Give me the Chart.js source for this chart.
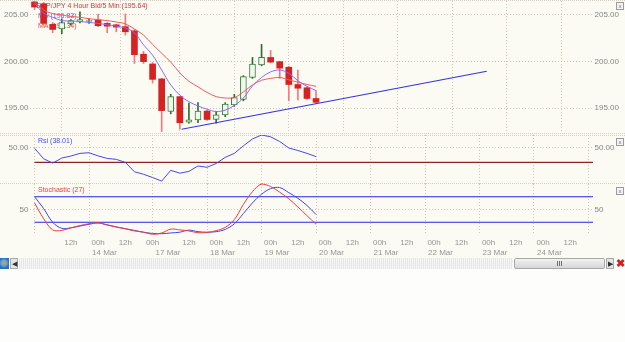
<!DOCTYPE html>
<html>
<head>
<meta charset="utf-8">
<script src="https://cdn.jsdelivr.net/npm/chart.js@4.4.0/dist/chart.umd.min.js"></script>
<style>
  body { margin: 0; background: #fdfdfb; }
  #wrap { position: relative; width: 625px; height: 342px; overflow: hidden; background: #fdfdfb;
          font-family: "Liberation Sans", Arial, sans-serif; }
  #bg { position: absolute; left: 0; top: 0; width: 625px; height: 258px; background: #fbfbf4; }
  canvas { position: absolute; left: 0; }
  .hline { position: absolute; left: 0; width: 625px; height: 0; border-top: 1px dotted #d8cfc2; }
  .xbox { position: absolute; left: 616px; width: 6px; height: 6px; border: 1px solid #9a9a9a;
          font-size: 6px; line-height: 6px; text-align: center; color: #777; background: #f4f4f0; }
  #scroll { position: absolute; left: 0; top: 258px; width: 625px; height: 11px; }
  #scroll div { position: absolute; top: 0; height: 11px; }
</style>
</head>
<body>
<div id="wrap">
  <div id="bg"></div>
  <div class="hline" style="top:0px"></div>
  <div class="hline" style="top:133px"></div>
  <div class="hline" style="top:135px"></div>
  <div class="hline" style="top:183px"></div>
  <canvas id="price" width="625" height="134" style="top:0px"></canvas>
  <canvas id="rsi" width="625" height="50" style="top:134px"></canvas>
  <canvas id="stoch" width="625" height="77" style="top:182px"></canvas>
  <div class="xbox" style="top:2px">x</div>
  <div class="xbox" style="top:138px">x</div>
  <div class="xbox" style="top:187px">x</div>
  <div id="scroll">
    <div style="left:0;width:9px;background:radial-gradient(circle at 4px 5px,#f0a030 0,#5aa0e0 3px,#2a70c0 5px);"></div>
    <div style="left:10px;width:8px;background:#e4e4e0;border:1px solid #aaa;box-sizing:border-box;font-size:7px;line-height:9px;text-align:center;color:#333">&#9664;</div>
    <div style="left:19px;width:494px;background:repeating-linear-gradient(90deg,#e6e6e6 0 1px,#f6f6f6 1px 2px);"></div>
    <div style="left:514px;width:91px;background:linear-gradient(#f2f2f2,#d6d6d6);border:1px solid #a8a8a8;border-radius:2px;box-sizing:border-box;text-align:center;font-size:7px;line-height:9px;color:#333">III</div>
    <div style="left:606px;width:8px;background:#e4e4e0;border:1px solid #aaa;box-sizing:border-box;font-size:7px;line-height:9px;text-align:center;color:#333">&#9654;</div>
    <div style="left:615px;width:10px;color:#d02020;font-size:11px;font-weight:bold;line-height:11px;text-align:center">&#10006;</div>
  </div>
</div>
<script>
// 4 hour candles, GBP/JPY
const openP  = [206.4, 206.2, 204.0, 203.5, 204.1, 204.25, 204.3, 204.45, 204.1, 203.95, 203.75, 203.3, 200.8, 199.75, 198.15, 194.65,
                196.25, 193.5, 193.75, 194.7, 193.8, 194.3, 195.35, 195.95, 198.3, 199.65, 200.45, 200.0, 199.4, 197.55, 197.2, 196.05];
const highP  = [206.5, 206.35, 204.2, 204.6, 204.5, 205.35, 204.6, 205.1, 204.2, 204.0, 205.1, 203.45, 201.1, 199.9, 198.2, 196.5,
                196.3, 195.55, 195.6, 194.8, 194.65, 195.6, 196.5, 198.5, 200.45, 201.85, 201.2, 200.05, 199.5, 199.1, 197.3, 196.9];
const lowP   = [205.6, 203.9, 203.1, 203.0, 203.9, 204.15, 204.1, 203.75, 203.1, 203.2, 202.85, 199.8, 199.8, 197.7, 192.5, 194.4,
                192.75, 193.4, 193.45, 193.7, 193.4, 194.1, 195.2, 195.8, 198.2, 199.55, 199.9, 198.2, 195.8, 195.9, 195.95, 195.5];
const closeP = [205.85, 204.1, 203.45, 204.2, 204.4, 204.5, 204.4, 203.85, 203.8, 203.7, 203.2, 200.75, 200.0, 198.1, 194.75, 196.25,
                193.45, 193.75, 194.7, 193.8, 194.3, 195.45, 196.15, 198.4, 199.75, 200.45, 199.95, 199.3, 197.55, 197.15, 196.05, 195.64];
const maFast = [206.25, 205.2, 204.75, 204.4, 204.35, 204.3, 204.2, 204.1, 203.95, 203.8, 203.6, 203.1, 201.8, 200.7, 199.1, 197.5,
                196.4, 195.7, 195.25, 194.9, 194.65, 194.8, 195.3, 196.1, 197.4, 198.3, 198.9, 199.1, 198.75, 197.95, 197.35, 196.9];
const maSlow = [206.4, 205.55, 205.15, 205.0, 204.85, 204.75, 204.6, 204.5, 204.4, 204.25, 204.05, 203.5, 202.85, 201.85, 200.9, 199.95,
                198.8, 197.9, 197.3, 196.7, 196.25, 196.1, 196.15, 196.75, 197.5, 198.0, 198.2, 198.3, 198.05, 197.8, 197.55, 197.35];
const rsiVals = [49.6, 35, 29, 36, 38.8, 42.5, 43.4, 39, 35.5, 34.2, 30, 17, 13.5, 9, 4, 19,
                 15, 17.5, 25, 23.2, 28.5, 37, 42.5, 53, 62.5, 68, 65.5, 59, 50, 46.5, 42.5, 38.01];
const stochK = [63, 32, 10, 9, 14, 18.5, 22, 24, 19.5, 15.5, 12, 8, 5.5, 1.5, 4, 11.5,
                10, 8, 4.5, 5, 8.5, 15, 30, 60, 85, 100, 95, 84, 71, 55, 38, 21];
const stochD = [75, 52, 25, 13, 14, 17.5, 21, 23.5, 20, 16, 12.5, 9, 5.5, 3, 2.5, 4,
                5.5, 9.5, 6.5, 5.5, 6.5, 11, 22, 42, 63, 80, 91, 93, 83, 72, 58, 40];
const trendX = [16.2, 49.8];
const trendY = [192.75, 198.97];
const rsiLevel = 30;
const stochLevels = [75, 25];

// time axis: 4 hour slots incl. empty future
const slotCount = 62;
const hourTickIdx  = [4, 7, 10, 13, 17, 20, 23, 26, 29, 32, 35, 38, 41, 44, 47, 50, 53, 56, 59];
const hourTickText = ['12h', '00h', '12h', '00h', '12h', '00h', '12h', '00h', '12h', '00h', '12h', '00h', '12h', '00h', '12h', '00h', '12h', '00h', '12h'];
const dayLineIdx = [0, 6, 13, 19, 25, 31, 37, 43, 49, 55, 61];
const dayText    = ['', '14 Mar', '17 Mar', '18 Mar', '19 Mar', '20 Mar', '21 Mar', '22 Mar', '23 Mar', '24 Mar', ''];

const priceTicks = [195, 200, 205];

const FONT = '"Liberation Sans", Arial, sans-serif';
const GRID = '#d2c4b2';
const xMin = -0.5, xMax = slotCount - 0.5;

const upCol = closeP.map((c, i) => c >= openP[i]);

function fixW(w) { return s => { s.width = w; s.paddingTop = 0; s.paddingBottom = 0; }; }
function fixH(h) { return s => { s.height = h; s.paddingLeft = 0; s.paddingRight = 0; }; }

const panelLabels = {
  id: 'panelLabels',
  beforeDatasetsDraw(chart, args, opts) {
    const ctx = chart.ctx;
    ctx.save();
    ctx.font = '7px ' + FONT;
    ctx.textBaseline = 'middle';
    (opts.items || []).forEach(it => {
      ctx.fillStyle = it.color;
      ctx.fillText(it.text, it.x, it.y);
    });
    ctx.restore();
  }
};

function dayGridAxis(height) {
  return {
    type: 'linear', min: xMin, max: xMax, offset: false,
    afterBuildTicks: s => { s.ticks = dayLineIdx.map(v => ({ value: v })); },
    ticks: { display: false },
    grid: { color: GRID, drawTicks: false },
    border: { display: false, dash: [1, 2] },
    afterFit: fixH(height)
  };
}

function yAxes(min, max, ticks, fmt, gridOn) {
  const base = {
    type: 'linear', min: min, max: max,
    afterBuildTicks: s => { s.ticks = ticks.map(v => ({ value: v })); },
    ticks: { font: { size: 8, family: FONT }, color: '#858585', padding: 1.5, callback: v => fmt(v) },
    border: { display: false, dash: [1, 2] }
  };
  return {
    y: Object.assign({}, base, {
      position: 'left', afterFit: fixW(30),
      grid: { display: gridOn, color: GRID, drawTicks: false }
    }),
    y2: Object.assign({}, base, {
      position: 'right', afterFit: fixW(32),
      grid: { display: false, drawTicks: false }
    })
  };
}

const common = {
  responsive: false, maintainAspectRatio: false, animation: false, devicePixelRatio: 1,
  plugins: { legend: { display: false }, tooltip: { enabled: false } }
};

// ---- price panel
new Chart(document.getElementById('price'), {
  type: 'bar',
  data: {
    datasets: [
      { type: 'line', data: trendX.map((x, i) => ({ x: x, y: trendY[i] })), borderColor: '#3434e0', borderWidth: 1.2, pointRadius: 0 },
      { type: 'line', data: maFast.map((y, i) => ({ x: i, y: y })), borderColor: '#8a6af2', borderWidth: 1, pointRadius: 0, tension: 0.35 },
      { type: 'line', data: maSlow.map((y, i) => ({ x: i, y: y })), borderColor: '#f05a5a', borderWidth: 1, pointRadius: 0, tension: 0.35 },
      { data: openP.map((o, i) => ({ x: i, y: [o, closeP[i]] })), grouped: false, barThickness: 6, minBarLength: 1,
        backgroundColor: upCol.map(u => u ? '#f2f7ee' : '#d62222'),
        borderColor: upCol.map(u => u ? '#3a7d3a' : '#d62222'),
        borderWidth: upCol.map(u => u ? 1 : 0), borderSkipped: false },
      { data: lowP.map((l, i) => ({ x: i, y: [l, highP[i]] })), grouped: false, barThickness: 1,
        backgroundColor: upCol.map(u => u ? '#2f6f2f' : '#f27a7a'), borderWidth: 0 }
    ]
  },
  options: Object.assign({}, common, {
    layout: { padding: { top: 1, bottom: 1, left: 0, right: 0 } },
    scales: Object.assign({ x: dayGridAxis(0) }, yAxes(192.35, 206.5, priceTicks, v => v.toFixed(2), true)),
    plugins: Object.assign({}, common.plugins, {
      panelLabels: { items: [
        { text: 'GBP/JPY 4 Hour Bid/5 Min (195.64)', x: 36, y: 6, color: '#c83a3a' },
        { text: 'MA (196.83)', x: 38, y: 16, color: '#7a62ee' },
        { text: 'MA (197.34)', x: 38, y: 26, color: '#f04646' }
      ] }
    })
  }),
  plugins: [panelLabels]
});

// ---- RSI panel
new Chart(document.getElementById('rsi'), {
  type: 'line',
  data: {
    datasets: [
      { data: rsiVals.map((y, i) => ({ x: i, y: y })), borderColor: '#4646ee', borderWidth: 1, pointRadius: 0 },
      { data: [{ x: 0, y: rsiLevel }, { x: xMax, y: rsiLevel }], borderColor: '#8e2424', borderWidth: 1.4, pointRadius: 0 }
    ]
  },
  options: Object.assign({}, common, {
    layout: { padding: { top: 1, bottom: 0, left: 0, right: 0 } },
    scales: Object.assign({ x: dayGridAxis(0) }, yAxes(0, 68, [50], v => v.toFixed(2), true)),
    plugins: Object.assign({}, common.plugins, {
      panelLabels: { items: [{ text: 'Rsi (38.01)', x: 38, y: 7, color: '#4a4ae6' }] }
    })
  }),
  plugins: [panelLabels]
});

// ---- Stochastic panel + time axis
const stochScales = Object.assign({
  x: {
    type: 'linear', min: xMin, max: xMax, offset: false, weight: 0,
    afterBuildTicks: s => { s.ticks = hourTickIdx.map(v => ({ value: v })); },
    ticks: { autoSkip: false, maxRotation: 0, font: { size: 8, family: FONT }, color: '#959595', padding: 3,
             callback: (v, i) => hourTickText[i] },
    grid: { display: false, drawTicks: false },
    border: { display: false },
    afterFit: fixH(12)
  },
  xd: Object.assign(dayGridAxis(12), {
    position: 'bottom', weight: 1,
    ticks: { display: true, autoSkip: false, maxRotation: 0, align: 'start', labelOffset: 3,
             font: { size: 8, family: FONT }, color: '#959595', padding: 1,
             callback: (v, i) => dayText[i] }
  })
}, yAxes(0, 100, [50], v => String(v), true));

new Chart(document.getElementById('stoch'), {
  type: 'line',
  data: {
    datasets: [
      { data: stochK.map((y, i) => ({ x: i, y: y })), borderColor: '#f23a3a', borderWidth: 1, pointRadius: 0, tension: 0.35, clip: false },
      { data: stochD.map((y, i) => ({ x: i, y: y })), borderColor: '#4040f4', borderWidth: 1, pointRadius: 0, tension: 0.35, clip: false },
      { data: [{ x: 0, y: stochLevels[0] }, { x: xMax, y: stochLevels[0] }], borderColor: '#2424f0', borderWidth: 1.2, pointRadius: 0 },
      { data: [{ x: 0, y: stochLevels[1] }, { x: xMax, y: stochLevels[1] }], borderColor: '#2424f0', borderWidth: 1.2, pointRadius: 0 }
    ]
  },
  options: Object.assign({}, common, {
    layout: { padding: { top: 2, bottom: 0, left: 0, right: 0 } },
    scales: stochScales,
    plugins: Object.assign({}, common.plugins, {
      panelLabels: { items: [{ text: 'Stochastic (27)', x: 38, y: 8, color: '#f24040' }] }
    })
  }),
  plugins: [panelLabels]
});
</script>
</body>
</html>
